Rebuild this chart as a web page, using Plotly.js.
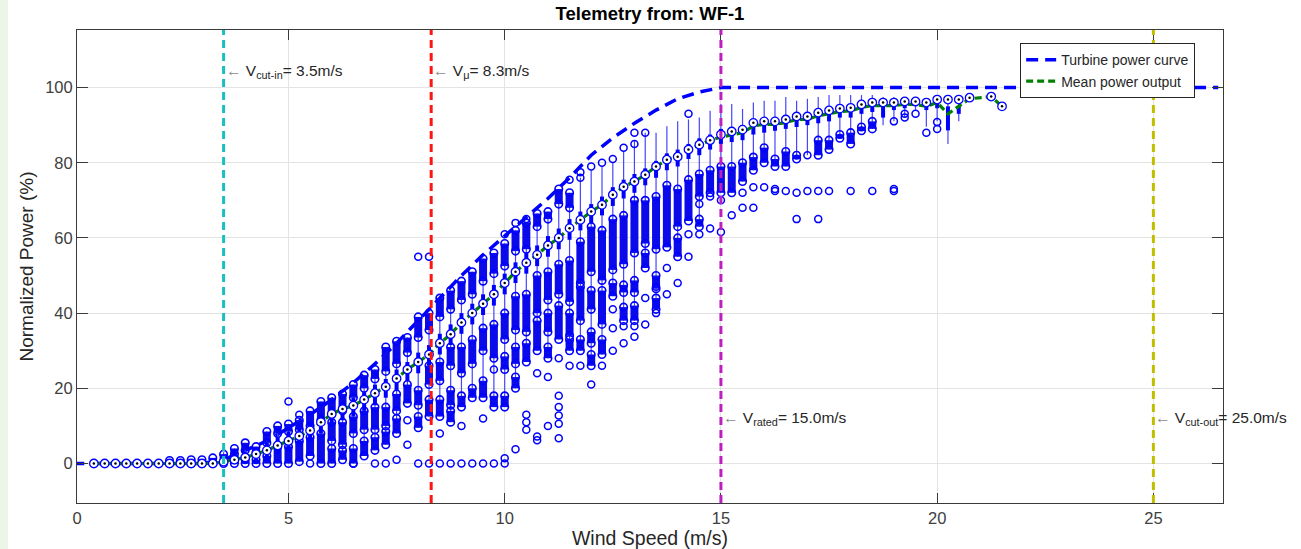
<!DOCTYPE html>
<html>
<head>
<meta charset="utf-8">
<script src="https://cdn.plot.ly/plotly-3.0.1.min.js"></script>
<style>
  html, body { margin: 0; padding: 0; background: #ffffff; }
  #chart { width: 1301px; height: 549px; }
</style>
</head>
<body>
<div id="chart"></div>
<script>
// Wind-speed bins (m/s) of the telemetry box plot
const windBins = [0.5,0.75,1,1.25,1.5,1.75,2,2.25,2.5,2.75,3,3.25,
  3.5,3.75,4,4.25,4.5,4.75,5,5.25,5.5,5.75,
  6,6.25,6.5,6.75,7,7.25,7.5,7.75,8,8.25,
  8.5,8.75,9,9.25,9.5,9.75,10,10.25,10.5,10.75,
  11,11.25,11.5,11.75,12,12.25,12.5,12.75,13,13.25,
  13.5,13.75,14,14.25,14.5,14.75,15,15.25,15.5,15.75,
  16,16.25,16.5,16.75,17,17.25,17.5,17.75,18,18.25,
  18.5,18.75,19,19.25,19.5,19.75,20,20.25,20.5,20.75,
  21.25,21.5];

// Median normalized power per bin (%)
const medianPower = [0,0,0,0,0,0,0,0,0,0,0,0,
  0.5,1,1.6,2.5,3.5,4.8,6,7.3,8.8,11,
  13.2,14.5,15.4,17,18.7,20.4,22.6,25,27,29,
  32,34.4,37.5,40,42.5,45,48,51,53.4,55.5,
  58,60,62.6,64.8,67,68.8,71.5,73.6,75,76.8,
  79,80.8,81.6,83.5,84.8,86,87.5,88.3,88.8,90.6,
  91,91,91.5,92.3,92.3,93.3,93.9,94.4,94.6,95.5,
  96,96,96,96.3,96.3,96,96.8,96.8,96.8,97.3,
  97.6,95];

// Mean normalized power per bin (%)
const meanPower = [0,0,0,0,0,0,0,0,0,0,0,0,
  0.5,1,1.6,2.5,3.5,4.8,6,7.3,8.8,11,
  13.2,14.5,15.4,17,18.7,20.4,22.6,25,27,29,
  32,34.4,37.5,40,42.5,45,48,51,53.4,55.5,
  58,60,62.6,64.8,67,68.8,71.5,73.6,75,76.8,
  79,80.8,81.6,83.5,84.8,86,86.8,87.5,88,89.8,
  90.2,90.2,90.7,91.5,91.5,92.5,93,93.6,93.8,94.7,
  95.2,95.2,95.2,95.5,95.5,95,96,93,95,97,
  97.6,95];

// Interquartile box (%)
const boxLow = [0,0,0,0,0,0,0,0,0,0,0,0,
  0,0.3,0.5,1,1.5,2.5,3.5,4.5,6,8,
  10,11.5,12.5,14,15.5,17.5,19.5,22,24,26,
  29,31.5,34.5,37,39.5,42,45,48,50.5,52.5,
  55,57,59.5,62,64,66,68.5,70.5,72,74,
  76,78,79,81,82,83.5,85,85.5,86,87.5,
  88,88.5,89,89.5,90,90.5,91,92,92,93,
  93.5,92,94,94.5,95,94,94.5,88.6,93,97,
  97.6,95];
const boxHigh = [0.3,0.3,0.3,0.3,0.3,0.3,0.3,0.3,0.3,0.3,0.3,0.3,
  1.5,2,3,4,5.5,7,8.5,9.5,11,13,
  15,16.5,17.5,19,21,22.5,25,27,29.5,31.5,
  34.5,37,40,42.5,45,47.5,50.5,53.5,56,58,
  60.5,62.5,65,67,69,71,73.5,75.5,77,78.5,
  80.5,82.5,83.5,85,86.5,87.5,89,89.5,90,91.5,
  92,92,92.5,93,93,94,94.5,95,95,96,
  96.5,96.5,96.5,96.8,96.8,96.5,97,95,95,97.5,
  97.6,95];

// Whisker extent (%)
const whiskerLow = [0,0,0,0,0,0,0,0,0,0,0,0,
  0,0,0,0,0,0,0,0.5,2,0,
  0,1,0,2,3.5,5,8,16,9.5,12.5,
  12.5,11,15,17.5,17.5,15,15,20,27,30,
  28,33,30,30,26,29,44.5,38,38,52,
  41,57.5,55,64.5,63,72,72,72,75,78,
  80,79,79,81,82,82,83.5,86.5,85,88.5,
  89,90,91,92,94,89.6,91,85,91,97,
  97.6,95];
const whiskerHigh = [0.5,0.5,0.5,0.5,0.5,0.5,0.5,0.5,0.5,0.5,0.5,0.5,
  3,4,5.5,4.5,8.5,10,10.5,11.5,14,16.5,
  17.5,18.5,21,23.5,25,31,32.5,33.5,39,40,
  44,46,48.5,51,54.5,56,58.5,62,64,66.5,
  67,73,72,76,78,79,80,83,86,88,
  88,89.7,91,91.5,92,93.8,95.6,95.6,94.3,96,
  96.5,96.5,97.5,96.5,97,97.5,98,98,98,98,
  98,97.5,97.5,97.5,97.5,97,97.5,97,97,97.5,
  97.6,95];

// Densely packed readings per bin: [from, to] in %
const denseBands = [[],[],[],[],[],[],[],
  [[0,0.8]],[[0,0.8]],[[0,1]],[[0,1]],[[0,1.5]],
  [[0,2.5]],[[0,1.5],[2.5,4]],[[3.5,5.5],[0,1]],[[3,4.5],[0,1]],[[5.5,8.5],[0,2]],
  [[8,10],[0,4.5]],[[8.5,10.5],[0,4.5]],[[9,11.5],[0.5,6]],[[10,14],[2,7]],[[11.5,16.5],[0,8]],
  [[13,17.5],[6,11],[0,4]],[[14,18.5],[5,11],[1,3.5]],[[17.5,21],[8,12.5],[0,4]],
  [[20,23.5],[9,14],[2,6]],[[22.5,25],[9,15],[3.5,7]],[[24.5,31],[10,15],[5,8.5]],
  [[26.5,32.5],[14,18.5],[8,12]],[[29.5,33.5],[16,21]],[[33.5,39],[15.5,19.5],[9.5,12.5]],
  [[35.5,40],[21,26],[12.5,17]],
  [[39,44],[22,27],[12.5,17]],[[41,46],[26,31],[15.5,19.5],[11,14]],[[43.5,48.5],[24,31],[15,18]],
  [[45,51],[26.5,33],[17.5,20]],[[48.5,54.5],[30,36],[17.5,22]],[[50.5,56],[28,37],[15,18]],
  [[52.5,58.5],[33,40],[25,28.5],[15,18]],[[56.5,62],[35.5,44.5],[26.5,31],[20,23]],
  [[57,64],[35,45],[27,32]],[[63,66.5],[40,50],[30,38]],
  [[65,67],[43.5,51],[35,40],[28,31]],[[69,73],[45,53],[33,42]],[[68,72],[43,54],[34,40],[30,33]],
  [[48,59],[38,47],[30,33]],[[51,63],[41,46],[32,35],[26,29]],[[48.7,62],[37,46],[29,33]],
  [[51.5,65],[44.5,48]],[[53,66],[45.5,47.5],[38,41.6]],[[56,70],[45.5,48.7],[38,42]],
  [[58.5,70],[52,56]],
  [[57,71],[46.5,50],[41,44]],[[57.5,74]],[[63,73],[55,60]],[[64.5,75.5]],[[71,77],[63,65]],
  [[72,78]],[[72,79]],[[72,79]],[[75,80]],[[78,81.5]],
  [[80,84]],[[79,81]],[[79,83]],[[81,82]],[],[[82,86]],[[83.5,86]],[[86.5,87.5]],[[85,88]],[[88.5,89.5]],
  [[89,91]],[],[],[],[],[],[],[],[],[],
  [],[]];

// Individual readings outside the dense groups (%)
const scatterPoints = [[],[],[],[],[],[],[],[],[],[],[],[],
  [],[],[],[],[],[],[16.5],[13],[0],[],
  [],[],[0],[],[0],[0],[1],[11.5,5],[55,0],[55,0],
  [0,8],[0],[0,10],[0],[0,12],[25,0],[0,1.4,61],[3.8,64],[65,13,11,9],[24,6.2,7.2],
  [23,10],[18,15,12.8,10.6,6.7,28],[75.5,26],[76,77.5,26],[79,21],[80,26],[81,41,36,30],[84,36.5,32],[85,88,36.5,33.7],[88,44,37],
  [47,40],[52,45],[48],[93,61,55],[69,61],[71,62.5],[61.6,70],[66],[72,68],[73.5,68],
  [73.5],[72.5,73],[72.5],[72,65],[82,72.5],[72.5,65],[72.5],[],[72.5],[],
  [72.5],[],[91,72.5,73],[92,93],[93],[88],[90.8,89],[],[],[],
  [],[]];

// Manufacturer power curve
const curveSpeed = [0,3,3.5,4,4.5,5,5.5,6,6.5,7,7.5,8,8.5,9,9.5,10,10.5,11,11.5,12,12.5,13,13.5,14,14.5,15,26.5];
const curvePower = [0,0,1,3.5,6,9.5,13,17,21.5,26.5,32,38,44,50,55.5,60.5,65.5,70.5,76,82,86.6,90.5,94,97,98.8,100,100];

// Reference speeds (m/s)
const thresholdSpeeds = [3.5, 8.3, 15.0, 25.0];
const thresholdNames = ['cut-in', '\u03bc', 'rated', 'cut-out'];

// Tick labels
const xTickText = ['0', '5', '10', '15', '20', '25'];
const yTickVals = [0, 20, 40, 60, 80, 100];

// ---------- styling ----------
const BLUE = 'rgb(0,0,255)';
const FONT = 'Liberation Sans, Arial, Helvetica, sans-serif';
const thresholdStyle = [
  {color: 'rgb(25,190,190)', labelY: 104.3},
  {color: 'rgb(255,20,20)', labelY: 104.3},
  {color: 'rgb(191,30,191)', labelY: 12},
  {color: 'rgb(191,191,0)', labelY: 12}
];
const X_RANGE = [0.11, 26.61];
const Y_RANGE = [-10.5, 115.3];

// vertical segments joined by gaps
function segments(centers, lows, highs) {
  const x = [], y = [];
  centers.forEach((c, i) => { x.push(c, c, null); y.push(lows[i], highs[i], null); });
  return {x, y};
}

const whisk = segments(windBins, whiskerLow, whiskerHigh);
const box = segments(windBins, boxLow, boxHigh);

const bandX = [], bandY = [], bandEndX = [], bandEndY = [];
denseBands.forEach((bands, i) => {
  bands.forEach(b => {
    bandX.push(windBins[i], windBins[i], null);
    bandY.push(b[0], b[1], null);
    bandEndX.push(windBins[i], windBins[i]);
    bandEndY.push(b[0], b[1]);
  });
});

const ptX = [], ptY = [];
scatterPoints.forEach((pts, i) => pts.forEach(v => { ptX.push(windBins[i]); ptY.push(v); }));

const traces = [
  {
    x: curveSpeed, y: curvePower, type: 'scatter', mode: 'lines',
    name: 'Turbine power curve',
    line: {color: BLUE, width: 3.5, dash: '12px,7px'}
  },
  {
    x: whisk.x, y: whisk.y, type: 'scatter', mode: 'lines', showlegend: false,
    line: {color: 'rgb(70,70,255)', width: 1.2}, hoverinfo: 'skip'
  },
  {
    x: bandX, y: bandY, type: 'scatter', mode: 'lines', showlegend: false,
    line: {color: 'rgb(10,10,235)', width: 8}, hoverinfo: 'skip'
  },
  {
    x: bandEndX, y: bandEndY, type: 'scatter', mode: 'markers', showlegend: false,
    marker: {symbol: 'circle-open', size: 7.5, color: BLUE, line: {width: 1.6, color: BLUE}}
  },
  {
    x: ptX, y: ptY, type: 'scatter', mode: 'markers', showlegend: false,
    marker: {symbol: 'circle-open', size: 7, color: BLUE, line: {width: 1.5, color: BLUE}}
  },
  {
    x: box.x, y: box.y, type: 'scatter', mode: 'lines', showlegend: false,
    line: {color: BLUE, width: 4}, hoverinfo: 'skip'
  },
  {
    x: windBins, y: meanPower, type: 'scatter', mode: 'lines',
    name: 'Mean power output',
    line: {color: 'rgb(0,128,0)', width: 3.2, dash: '7px,4px'}
  },
  {
    x: windBins, y: medianPower, type: 'scatter', mode: 'markers', showlegend: false,
    marker: {symbol: 'circle', size: 8.5, color: '#ffffff', line: {width: 1.3, color: BLUE}}
  },
  {
    x: windBins, y: medianPower, type: 'scatter', mode: 'markers', showlegend: false,
    marker: {symbol: 'circle', size: 2.5, color: '#000000'}
  }
];

const shapes = [
  // pale strip at the left edge of the figure
  {type: 'rect', xref: 'paper', yref: 'paper', x0: -0.0672, x1: -0.0602, y0: -0.0973, y1: 1.0634,
   fillcolor: '#ebf6e8', line: {width: 0}, layer: 'below'}
];
const annotations = [];
thresholdSpeeds.forEach((v, i) => {
  shapes.push({
    type: 'line', xref: 'x', yref: 'paper', x0: v, x1: v, y0: 0, y1: 1,
    line: {color: thresholdStyle[i].color, width: 3, dash: '8px,5px'}, layer: 'above'
  });
  annotations.push({
    x: v, y: thresholdStyle[i].labelY, xref: 'x', yref: 'y',
    xanchor: 'left', yanchor: 'middle', showarrow: false,
    text: '<span style="color:#8a8a8a">\u2190</span> V<sub>' + thresholdNames[i] + '</sub>= ' + v.toFixed(1) + 'm/s',
    font: {family: FONT, size: 15.5, color: '#262626'}
  });
});

const axisCommon = {
  ticks: 'inside', mirror: 'ticks', showline: true, linecolor: '#3a3a3a', linewidth: 1,
  tickcolor: '#3a3a3a', showgrid: true, gridcolor: '#e3e3e3', gridwidth: 1, zeroline: false,
  tickfont: {family: FONT, size: 16.5, color: '#404040'}
};

const layout = {
  width: 1301, height: 549,
  margin: {l: 77, r: 78, t: 30, b: 46},
  paper_bgcolor: '#ffffff', plot_bgcolor: '#ffffff',
  font: {family: FONT},
  title: {
    text: '<b>Telemetry from: WF-1</b>', x: 0.5, xref: 'paper', xanchor: 'center',
    y: 1 - 14 / 549, yref: 'container', yanchor: 'middle',
    font: {family: FONT, size: 18.5, color: '#000000'}
  },
  xaxis: Object.assign({}, axisCommon, {
    range: X_RANGE, tickvals: [X_RANGE[0], 5, 10, 15, 20, 25], ticktext: xTickText, ticklen: 10,
    title: {text: 'Wind Speed (m/s)', standoff: 0, font: {family: FONT, size: 19.5, color: '#262626'}}
  }),
  yaxis: Object.assign({}, axisCommon, {
    range: Y_RANGE, tickvals: yTickVals, ticklen: 11,
    title: {text: 'Normalized Power (%)', standoff: 6, font: {family: FONT, size: 19, color: '#262626'}}
  }),
  legend: {
    x: 0.823, y: 0.972, xanchor: 'left', yanchor: 'top',
    bgcolor: '#ffffff', bordercolor: '#262626', borderwidth: 1,
    font: {family: FONT, size: 14, color: '#262626'}, tracegroupgap: 0
  },
  shapes: shapes,
  annotations: annotations,
  showlegend: true
};

Plotly.newPlot('chart', traces, layout, {staticPlot: true, displayModeBar: false});
</script>
</body>
</html>
